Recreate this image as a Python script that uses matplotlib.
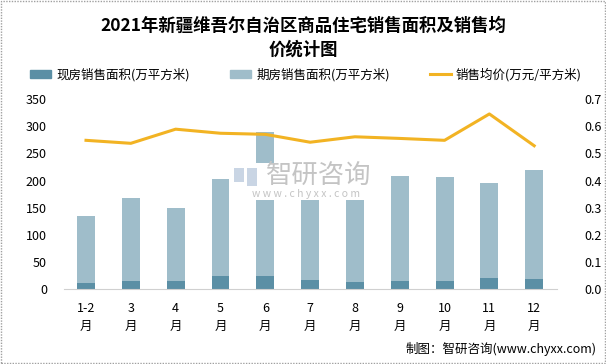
import matplotlib
matplotlib.use("Agg")
import matplotlib.pyplot as plt
from matplotlib.patches import Rectangle
from matplotlib.lines import Line2D

plt.rcParams['font.family'] = ['Noto Sans CJK SC', 'DejaVu Sans']

months = ["1-2\n月", "3\n月", "4\n月", "5\n月", "6\n月", "7\n月", "8\n月", "9\n月", "10\n月", "11\n月", "12\n月"]
spot_area = [12, 15, 16, 24.5, 24.5, 17, 13.5, 15.5, 15, 21, 19]
total_area = [135, 168, 150, 202, 289, 164, 164, 208, 206.5, 195.5, 219]
futures_area = [t - s for t, s in zip(total_area, spot_area)]
avg_price = [0.548, 0.537, 0.589, 0.574, 0.570, 0.541, 0.561, 0.555, 0.548, 0.645, 0.528]

c_dark = "#5B8FA5"
c_light = "#9FBDCA"
c_line = "#F2B323"

W, H = 606, 364
fig = plt.figure(figsize=(W / 100, H / 100), dpi=100)
ax = fig.add_axes([63.6 / W, 1 - 289.3 / H, 493 / W, 190.3 / H])
x = list(range(len(months)))
w = 0.40
ax.bar(x, spot_area, width=w, color=c_dark, zorder=2)
ax.bar(x, futures_area, width=w, bottom=spot_area, color=c_light, zorder=2)
ax.set_ylim(0, 350)
ax.set_yticks(range(0, 351, 50))
ax.set_xlim(-0.5, len(months) - 0.5)
ax.set_xticks(x)
ax.set_xticklabels(months, fontsize=9, linespacing=1.5)
for s in ["top", "left", "right"]:
    ax.spines[s].set_visible(False)
ax.spines["bottom"].set_color("#D0D0D0")
ax.tick_params(axis="both", length=0, labelsize=9)
ax.tick_params(axis="x", pad=9)
ax.tick_params(axis="y", pad=12)

ax2 = ax.twinx()
ax2.plot(x, avg_price, color=c_line, lw=2.2, zorder=3)
ax2.set_ylim(0, 0.7)
ax2.set_yticks([i / 10 for i in range(8)])
ax2.set_yticklabels([f"{i/10:.1f}" for i in range(8)])
for s in ["top", "left", "right", "bottom"]:
    ax2.spines[s].set_visible(False)
ax2.tick_params(axis="y", length=0, labelsize=9, pad=20)

# watermark (white box covering part of the chart, as in the source)
fig.add_artist(Rectangle((231 / W, 1 - 200 / H), 150 / W, 37 / H, transform=fig.transFigure,
                         facecolor="white", edgecolor="none", zorder=5))
fig.add_artist(Rectangle((234 / W, 1 - 182 / H), 10 / W, 14 / H, transform=fig.transFigure,
                         facecolor="#C9D5E4", edgecolor="none", zorder=6))
fig.add_artist(Rectangle((247 / W, 1 - 186 / H), 10 / W, 18 / H, transform=fig.transFigure,
                         facecolor="#C9D5E4", edgecolor="none", zorder=6))
fig.text(319 / W, 1 - 175 / H, "智研咨询", fontsize=19, color="#C4C4C4", ha="center", va="center", zorder=7)
fig.text(306 / W, 1 - 194 / H, "w w w . c h y x x . c o m", fontsize=7.5, color="#C4C4C4",
         ha="center", va="center", zorder=7)

fig.text(0.5, 0.928, "2021年新疆维吾尔自治区商品住宅销售面积及销售均", fontsize=12.5, fontweight="bold", ha="center", va="center")
fig.text(0.5, 0.863, "价统计图", fontsize=12.5, fontweight="bold", ha="center", va="center")

handles = [Rectangle((0, 0), 1, 1, color=c_dark), Rectangle((0, 0), 1, 1, color=c_light),
           Line2D([0], [0], color=c_line, lw=2.2)]
labels = ["现房销售面积(万平方米)", "期房销售面积(万平方米)", "销售均价(万元/平方米)"]
fig.legend(handles, labels, loc="center", bbox_to_anchor=(0.505, 0.795), ncol=3, frameon=False,
           fontsize=9, handlelength=1.7, handleheight=0.5, columnspacing=3.2, handletextpad=0.4)

fig.text(0.985, 0.04, "制图：智研咨询(www.chyxx.com)", fontsize=9, ha="right", va="center")

fig.add_artist(Rectangle((0.001, 0.002), 0.997, 0.995, transform=fig.transFigure, fill=False,
                         edgecolor="#A0A0A0", lw=1, ls=(0, (1, 1))))

fig.savefig("out.png", dpi=100)
